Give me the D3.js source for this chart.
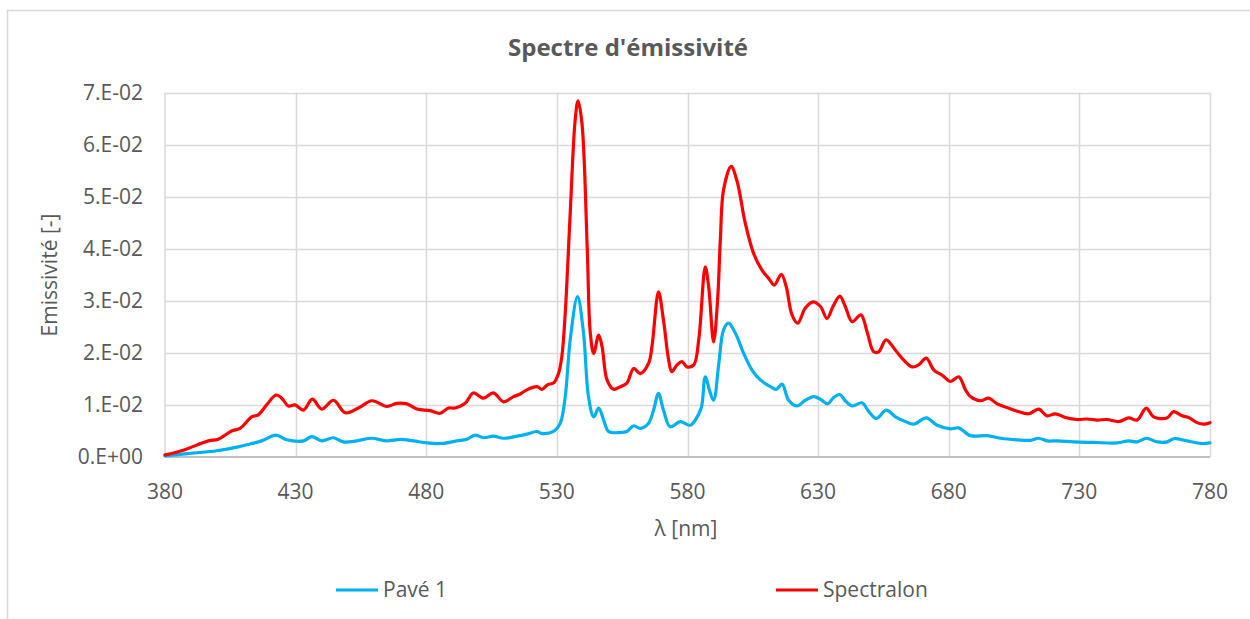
<!DOCTYPE html>
<html><head><meta charset="utf-8">
<script src="https://cdn.jsdelivr.net/npm/d3@7"></script>
<style>body{margin:0;background:#fff}svg{display:block}text{font-family:"Open Sans","Liberation Sans",sans-serif;fill:#595959}</style>
</head><body><svg id="c" width="1250" height="619"></svg>
<script>
const xTicks = [380,430,480,530,580,630,680,730,780];
const yTicks = [0,0.01,0.02,0.03,0.04,0.05,0.06,0.07];
const yTickLabels = ["0.E+00","1.E-02","2.E-02","3.E-02","4.E-02","5.E-02","6.E-02","7.E-02"];
const seriesNames = ["Pavé 1","Spectralon"];
const seriesColors = ["#00B0F0","#FF0000"];

const spectralonNm = [380,387,396.6,400.4,405.5,408.7,413.2,415.7,418.9,422.5,424.7,427.2,429.8,433,436.4,440,444.5,449,454,459.2,464.9,468.7,472.6,476.4,481.5,485.3,488.5,491,494.9,498,501.9,505.7,509.6,513.4,516,518.5,522.4,524.3,526.5,528.7,530.6,531.9,533.2,535.1,537,538.1,539.6,541.6,542.8,544.1,546,547.3,549.2,551.7,554.3,556.8,559.4,561.9,565.1,566.4,568.9,570.8,572.8,574,576,577.9,579.8,582.4,584.3,586.8,588.1,590,591.5,592.6,593.8,596.7,599,602.1,605.3,608.5,611.1,613.2,615.9,617.8,620,622.2,625.1,628.1,630.9,633.4,635.7,638.3,640.4,643,646.4,648.7,651.3,653.2,656,659.6,662.8,666,668.5,671.4,674.3,677.5,680.7,683.8,686.4,688.3,692.2,695.3,698.5,702.3,706.2,710.6,714.4,717.6,720.8,724.6,729.1,732.9,736.8,740.6,745,748.9,752.1,755.6,758.4,763.5,766.1,769.3,771.8,775,777.6,780];
const spectralonVal = [0.0004,0.0013,0.0031,0.0034,0.005,0.0055,0.0077,0.0081,0.0100,0.0119,0.0113,0.0098,0.0100,0.0090,0.0111,0.0092,0.0109,0.0085,0.0094,0.0108,0.0097,0.0103,0.0102,0.0092,0.0089,0.0084,0.0094,0.0094,0.0103,0.0123,0.0113,0.0123,0.0106,0.0116,0.0121,0.0129,0.0135,0.0130,0.0139,0.0142,0.0160,0.0193,0.0276,0.0468,0.0647,0.0684,0.0641,0.0404,0.0238,0.0199,0.0234,0.0212,0.0148,0.0130,0.0135,0.0142,0.0170,0.0160,0.0180,0.0212,0.0317,0.0263,0.0186,0.0164,0.0177,0.0183,0.0173,0.0177,0.0225,0.0365,0.0327,0.0221,0.0300,0.0420,0.0513,0.0558,0.0529,0.0449,0.0391,0.0359,0.0343,0.0330,0.0351,0.0327,0.0273,0.0257,0.0286,0.0298,0.0289,0.0266,0.0289,0.0309,0.0289,0.0260,0.0273,0.0241,0.0202,0.0202,0.0225,0.0205,0.0186,0.0173,0.0177,0.0190,0.0167,0.0157,0.0145,0.0154,0.0129,0.0116,0.0108,0.0113,0.0102,0.0095,0.0088,0.0083,0.0092,0.0079,0.0083,0.0076,0.0072,0.0073,0.0071,0.0072,0.0068,0.0075,0.0071,0.0094,0.0077,0.0075,0.0087,0.0079,0.0076,0.0066,0.0063,0.0066];

const paveNm = [380,389.6,399.8,407.5,412.6,417,422.5,426.6,433,436.2,440,444.5,448.3,453.4,459.2,464.9,470,475.1,480.2,486,491.7,495.5,498.7,501.9,505.7,509.6,514.7,518.5,522.4,524.3,528.7,531.3,533.2,535.1,537.9,540.2,542.1,544.1,546,547.9,549.8,554.3,556.8,559.4,561.9,565.1,567,568.9,570.8,573.4,577.2,581.1,583,585.3,586.8,588.6,590,592,593.8,595.7,598.3,601.5,604.7,607.9,611.7,614,616.2,618.7,621.9,625.1,628.3,630.9,633.7,635.7,638.3,640.4,643,646.8,649.4,652.3,656.1,659.6,663.4,666.6,671.4,675.6,680.7,683.8,688.3,694.7,699.8,706.2,711.3,714.4,717.6,721.5,727.9,735.5,744.5,748.9,752.1,755.7,759.8,763.6,766.1,771.3,776.4,780];
const paveVal = [0.0002,0.0007,0.0012,0.0019,0.0025,0.0031,0.0042,0.0033,0.0031,0.0039,0.0031,0.0037,0.0029,0.0031,0.0036,0.0031,0.0034,0.0031,0.0027,0.0026,0.0031,0.0034,0.0042,0.0037,0.0040,0.0036,0.0040,0.0044,0.0049,0.0045,0.0049,0.0065,0.0116,0.0225,0.0308,0.0238,0.0116,0.0077,0.0094,0.0071,0.0049,0.0047,0.0049,0.0060,0.0055,0.0065,0.0090,0.0122,0.0090,0.0058,0.0068,0.0061,0.0071,0.0095,0.0154,0.0125,0.0109,0.0180,0.0244,0.0257,0.0238,0.0199,0.0167,0.0148,0.0135,0.0130,0.0140,0.0109,0.0098,0.0109,0.0116,0.0111,0.0102,0.0113,0.0120,0.0108,0.0098,0.0104,0.0087,0.0074,0.0090,0.0077,0.0068,0.0063,0.0075,0.0061,0.0054,0.0056,0.0041,0.0041,0.0036,0.0033,0.0032,0.0036,0.0031,0.0031,0.0029,0.0028,0.0027,0.0031,0.0029,0.0036,0.0029,0.0029,0.0035,0.0031,0.0026,0.0027];

const svg = d3.select("#c");
const L = 165, R = 1210, T = 92.5, B = 457;
const x = d3.scaleLinear().domain([380,780]).range([L,R]);
const y = d3.scaleLinear().domain([0,0.07]).range([B,T]);

// outer chart border
svg.append("rect").attr("x",7.5).attr("y",10.5).attr("width",1260).attr("height",640)
  .attr("fill","none").attr("stroke","#D9D9D9").attr("stroke-width",1.5);

// gridlines
svg.append("g").selectAll("line").data(yTicks.slice(1)).join("line")
  .attr("x1",L).attr("x2",R).attr("y1",d=>Math.round(y(d))+0.5).attr("y2",d=>Math.round(y(d))+0.5)
  .attr("stroke","#D9D9D9").attr("stroke-width",1.5);
svg.append("g").selectAll("line").data(xTicks.slice(1)).join("line")
  .attr("y1",T).attr("y2",B).attr("x1",d=>Math.round(x(d))+0.5).attr("x2",d=>Math.round(x(d))+0.5)
  .attr("stroke","#D9D9D9").attr("stroke-width",1.5);
// axes lines
svg.append("line").attr("x1",L).attr("x2",L).attr("y1",T).attr("y2",B).attr("stroke","#D9D9D9").attr("stroke-width",1.5);
svg.append("line").attr("x1",L).attr("x2",R).attr("y1",B).attr("y2",B).attr("stroke","#BFBFBF").attr("stroke-width",2);

// tick labels
svg.append("g").selectAll("text").data(yTicks).join("text")
  .attr("x",143).attr("y",d=>y(d)+7).attr("text-anchor","end").attr("font-size",21)
  .text((d,i)=>yTickLabels[i]);
svg.append("g").selectAll("text").data(xTicks).join("text")
  .attr("x",d=>x(d)).attr("y",499).attr("text-anchor","middle").attr("font-size",21)
  .text(d=>d);

// titles
svg.append("text").attr("x",628).attr("y",56).attr("text-anchor","middle")
  .attr("font-size",24).attr("font-weight","bold").text("Spectre d'émissivité");
svg.append("text").attr("x",686).attr("y",536).attr("text-anchor","middle")
  .attr("font-size",21).text("λ [nm]");
svg.append("text").attr("transform","translate(57,275) rotate(-90)").attr("text-anchor","middle")
  .attr("font-size",21).text("Emissivité [-]");

// lines
const line = d3.line().x(d=>x(d[0])).y(d=>y(d[1])).curve(d3.curveCatmullRom.alpha(0.5));
const paveData = paveNm.map((n,i)=>[n,paveVal[i]]);
const spectralonData = spectralonNm.map((n,i)=>[n,spectralonVal[i]]);
[paveData, spectralonData].forEach((data,i)=>{
  svg.append("path").datum(data).attr("d",line).attr("fill","none")
    .attr("stroke",seriesColors[i]).attr("stroke-width",3.2).attr("stroke-linejoin","round").attr("stroke-linecap","round");
});

// legend
const legX = [336, 776];
seriesNames.forEach((name,i)=>{
  svg.append("line").attr("x1",legX[i]).attr("x2",legX[i]+42).attr("y1",590).attr("y2",590)
    .attr("stroke",seriesColors[i]).attr("stroke-width",3.2);
  svg.append("text").attr("x",legX[i]+47).attr("y",597).attr("font-size",21).text(name);
});
</script></body></html>
